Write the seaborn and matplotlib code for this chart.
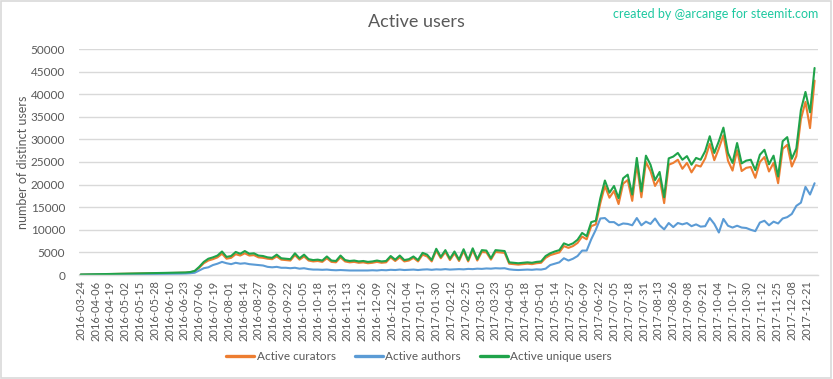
import numpy as np
import pandas as pd
import matplotlib
matplotlib.use("Agg")
import matplotlib.pyplot as plt
import seaborn as sns

# ---------------- data (sampled every 4 days from 2016-03-24) ----------------
start_date = "2016-03-24"
step_days = 4

unique_users = [
    100, 120, 130, 150, 160, 180, 200, 230, 250, 270, 300, 320, 340, 360, 380, 400,
    420, 430, 450, 470, 480, 500, 520, 560, 650, 900,
    1800, 2900, 3600, 3900, 4300, 5200, 4000, 4200, 5100, 4700, 5300, 4700, 4800, 4300,
    4200, 3900, 3800, 4500, 3700, 3600, 3500, 4800, 3700, 4500, 3500, 3300, 3400, 3200,
    4100, 3200, 3100, 4300, 3300, 3100, 3200, 3000, 3100,
    2900, 3000, 3200, 3000, 3100, 4200, 3400, 4300, 3300, 3500, 4100, 3300, 4900, 4500,
    3300, 5800, 4000, 5500, 3600, 5200, 3400, 5700, 3300, 5900, 3500, 5500, 5400, 3700,
    5500, 5400, 5300, 2800, 2700, 2600, 2700, 2800, 2700, 2900, 3000, 4200, 4800, 5200, 5500,
    7000, 6600, 7000, 7800, 9300, 8600, 11700, 12000, 17000, 20900, 18200, 19700, 17000,
    21400, 22200, 17800, 25900, 18500, 26400, 24400, 21000, 22800, 17200, 25800, 26200,
    27000, 25500, 26300, 24400, 25900, 25500, 27400, 30700, 27000, 29600, 32600, 27000,
    24800, 29200, 24700, 25300, 25500, 23200, 26600, 27700, 24500, 26400, 21800, 29600,
    30500, 25700, 28000, 36500, 40500, 36000, 45800,
]

curators = [
    90, 110, 120, 140, 150, 170, 190, 210, 230, 250, 280, 300, 320, 340, 360, 370,
    390, 400, 420, 440, 450, 470, 490, 520, 600, 830,
    1600, 2600, 3200, 3500, 3900, 4700, 3600, 3800, 4600, 4300, 4800, 4300, 4400, 3900,
    3800, 3600, 3500, 4100, 3400, 3300, 3200, 4400, 3400, 4100, 3200, 3000, 3100, 2900,
    3700, 2900, 2800, 3900, 3000, 2800, 2900, 2700, 2800,
    2600, 2700, 2900, 2700, 2800, 3900, 3100, 3900, 3000, 3200, 3800, 3000, 4500, 4100,
    3000, 5400, 3700, 5100, 3300, 4800, 3100, 5300, 3000, 5500, 3200, 5100, 5000, 3400,
    5100, 5000, 4900, 2500, 2400, 2300, 2400, 2500, 2400, 2600, 2700, 3800, 4400, 4700, 5000,
    6400, 6000, 6400, 7100, 8500, 7900, 10800, 11200, 15900, 19700, 17100, 18600, 15700,
    20200, 21000, 16400, 24500, 17200, 25000, 23000, 19700, 21400, 15900, 24400, 24800,
    25500, 23500, 24800, 22700, 24300, 24000, 25800, 29000, 25400, 28000, 30900, 25300,
    23100, 27600, 23000, 23700, 23900, 21500, 25000, 26100, 22900, 24800, 20300, 27900,
    28800, 24000, 26300, 34500, 38300, 32500, 43000,
]

authors = [
    60, 70, 80, 90, 100, 110, 120, 130, 140, 150, 160, 170, 180, 190, 200, 210,
    220, 230, 240, 250, 260, 270, 290, 320, 380, 500,
    1000, 1500, 1700, 2200, 2500, 2900, 2600, 2400, 2700, 2500, 2600, 2400, 2300, 2200,
    2100, 1800, 1700, 1800, 1600, 1600, 1500, 1600, 1400, 1500, 1300, 1200, 1200, 1150,
    1200, 1100, 1050, 1100, 1050, 1000, 1000, 980, 1000,
    1000, 1050, 1000, 1100, 1050, 1150, 1100, 1200, 1100, 1150, 1200, 1100, 1200, 1250,
    1150, 1250, 1200, 1300, 1200, 1250, 1300, 1250, 1350, 1300, 1400, 1350, 1450, 1400,
    1500, 1450, 1500, 1250, 1150, 1100, 1150, 1200, 1150, 1250, 1200, 1400, 2200, 2500, 2800,
    3700, 3200, 3600, 4200, 5400, 5400, 7900, 10000, 12500, 12600, 11700, 11700, 11000,
    11400, 11300, 11000, 12600, 11000, 11800, 11300, 12500, 11000, 10100, 11500, 10600,
    11500, 11200, 11500, 10800, 11200, 10700, 10800, 12600, 11300, 9400, 12400, 10900,
    10500, 10900, 10500, 10400, 10000, 9700, 11600, 12000, 11000, 11800, 11400, 12500,
    12800, 13500, 15300, 16000, 19500, 17800, 20300,
]

series_names = ["Active curators", "Active authors", "Active unique users"]
series_colors = ["#ED7D31", "#5B9BD5", "#1FA34A"]

tick_start = "2016-03-24"
tick_end = "2017-12-21"
tick_step = "13D"
y_ticks = [0, 5000, 10000, 15000, 20000, 25000, 30000, 35000, 40000, 45000, 50000]

title_text = "Active users"
credit_text = "created by @arcange for steemit.com"
y_label = "number of distinct users"

# ---------------- build frame ----------------
dates = pd.date_range(start_date, periods=len(unique_users), freq=f"{step_days}D")
wide = pd.DataFrame({
    "date": dates,
    series_names[0]: curators,
    series_names[1]: authors,
    series_names[2]: unique_users,
})
long = wide.melt(id_vars="date", var_name="series", value_name="users")

# ---------------- style ----------------
sns.set_theme(style="white")
plt.rcParams["font.family"] = ["Lato", "DejaVu Sans"]
text_gray = "#595959"
grid_gray = "#D9D9D9"

fig = plt.figure(figsize=(8.33, 3.79), dpi=100)
ax = fig.add_axes([79 / 833, 1 - 275 / 379, (818 - 79) / 833, (275 - 49) / 379])

sns.lineplot(data=long, x="date", y="users", hue="series", hue_order=series_names,
             palette=dict(zip(series_names, series_colors)), linewidth=1.5,
             ax=ax, legend=True)

ax.set_ylim(0, 50000)
ax.set_yticks(y_ticks)
ax.set_yticklabels([str(v) for v in y_ticks], fontsize=8.5, color=text_gray)
ax.yaxis.grid(True, color=grid_gray, linewidth=1.0)
ax.set_axisbelow(True)

x0 = pd.Timestamp(start_date)
ax.set_xlim(x0 - pd.Timedelta(days=1.5), x0 + pd.Timedelta(days=647))
ticks = pd.date_range(tick_start, tick_end, freq=tick_step)
ax.set_xticks(ticks)
ax.set_xticklabels([t.strftime("%Y-%m-%d") for t in ticks], rotation=90,
                   fontsize=8, color=text_gray)
ax.tick_params(axis="both", length=0, pad=4)
ax.tick_params(axis="y", pad=10)

for s in ["top", "right", "left"]:
    ax.spines[s].set_visible(False)
ax.spines["bottom"].set_color(grid_gray)
ax.spines["bottom"].set_linewidth(1.0)

ax.set_xlabel("")
ax.set_ylabel(y_label, fontsize=9, color=text_gray, labelpad=1)

handles, labels = ax.get_legend_handles_labels()
ax.get_legend().remove()
for h in handles:
    h.set_linewidth(2.4)
fig.legend(handles, labels, loc="center", bbox_to_anchor=(0.503, 1 - 357 / 379),
           ncol=3, frameon=False, fontsize=8.5, handlelength=2.4,
           handletextpad=0.2, columnspacing=1.6, labelcolor=text_gray)

fig.text(0.5, 1 - 22 / 379, title_text, ha="center", va="center",
         fontsize=13, color=text_gray)
fig.text(818 / 833, 1 - 14 / 379, credit_text, ha="right", va="center",
         fontsize=9, color="#1DC8A0")

# outer border like the chart frame
fig.patches.append(plt.Rectangle((0.001, 0.002), 0.997, 0.995, transform=fig.transFigure,
                                 fill=False, edgecolor=grid_gray, linewidth=1.2))

fig.savefig("out.png", dpi=100)
